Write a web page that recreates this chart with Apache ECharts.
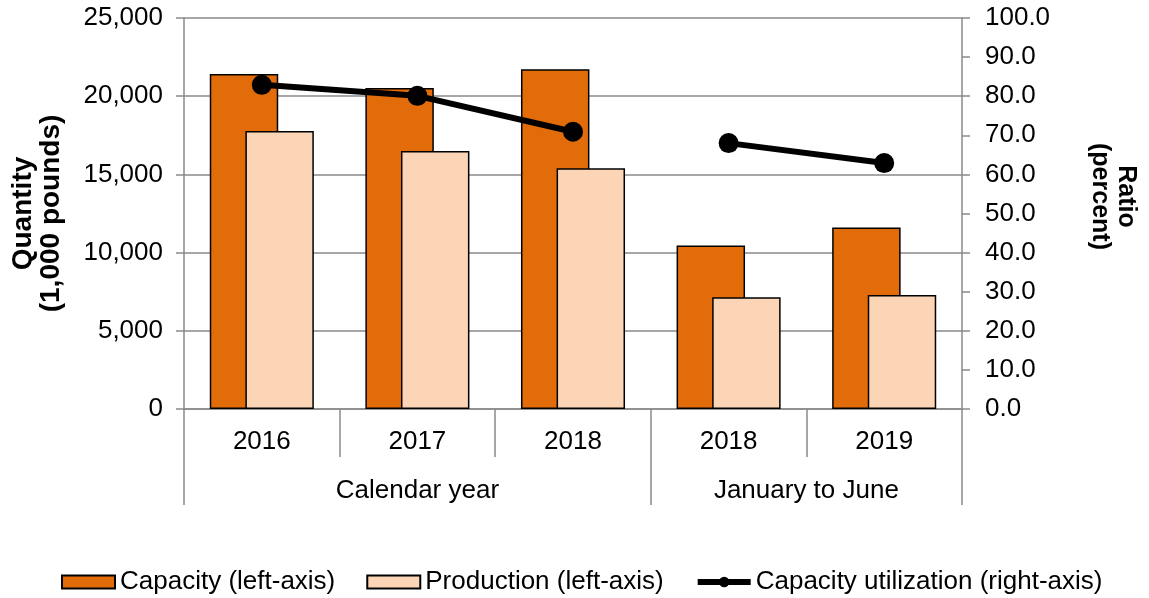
<!DOCTYPE html>
<html>
<head>
<meta charset="utf-8">
<script src="https://cdn.jsdelivr.net/npm/echarts@6/dist/echarts.min.js"></script>
<style>
html, body { margin: 0; padding: 0; background: #fff; }
#chart { width: 1149px; height: 598px; }
</style>
</head>
<body>
<div id="chart"></div>
<script>
// 分类与分组
const years = ['2016', '2017', '2018', '2018', '2019'];
const groups = ['Calendar year', 'January to June'];
const groupBreaks = [0, 3, 5];
const groupCenters = [1.5, 4];
// 数据 (1,000 pounds / percent)
const capacity = [21420, 20520, 21720, 10450, 11600];
const production = [17780, 16500, 15390, 7140, 7290];
const utilCalendar = [82.9, 80.1, 70.9, '-', '-'];
const utilInterim = ['-', '-', '-', 68.0, 62.9];

const font = 'Liberation Sans, Arial, sans-serif';
const gray = '#8a8a8a';

let myChart = echarts.init(document.getElementById('chart'));
myChart.setOption({
    animation: false,
    textStyle: { fontFamily: font },
    grid: { left: 184, right: 187, top: 18, bottom: 189, containLabel: false },
    legend: {
        top: 564,
        left: 56,
        itemWidth: 53,
        itemHeight: 13,
        itemGap: 31,
        textStyle: { fontSize: 26, color: '#000', fontFamily: font },
        data: [
            { name: 'Capacity (left-axis)', icon: 'rect' },
            { name: 'Production (left-axis)', icon: 'rect' },
            {
                name: 'Capacity utilization (right-axis)',
                lineStyle: { width: 6 }
            }
        ]
    },
    xAxis: [
        {
            type: 'category',
            data: years,
            axisLine: { lineStyle: { color: gray, width: 1.5 } },
            axisTick: { show: true, length: 48, lineStyle: { color: gray, width: 1.5 } },
            axisLabel: { color: '#000', fontSize: 26, margin: 20 },
            splitLine: { show: false }
        },
        {
            type: 'value',
            position: 'bottom',
            min: 0,
            max: 5,
            axisLine: { show: false },
            axisTick: {
                show: true, length: 96, customValues: groupBreaks,
                lineStyle: { color: gray, width: 1.5 }
            },
            axisLabel: {
                customValues: groupCenters,
                color: '#000', fontSize: 26, margin: 69,
                formatter: (v) => groups[groupCenters.indexOf(v)] || ''
            },
            splitLine: { show: false }
        }
    ],
    yAxis: [
        {
            type: 'value',
            min: 0, max: 25000, interval: 5000,
            name: 'Quantity\n(1,000 pounds)',
            nameLocation: 'middle',
            nameRotate: 90,
            nameGap: 119,
            nameTextStyle: { fontSize: 28, fontWeight: 'bold', color: '#000', lineHeight: 28 },
            axisLine: { show: true, lineStyle: { color: gray, width: 1.5 } },
            axisTick: { show: true, length: 8, lineStyle: { color: gray, width: 1.5 } },
            axisLabel: {
                color: '#000', fontSize: 26, margin: 21,
                formatter: (v) => v.toLocaleString('en-US')
            },
            splitLine: { show: true, lineStyle: { color: gray, width: 1.5 } }
        },
        {
            type: 'value',
            min: 0, max: 100, interval: 10,
            name: 'Ratio\n(percent)',
            nameLocation: 'middle',
            nameRotate: -90,
            nameGap: 125,
            nameTextStyle: {
                fontSize: 25, fontWeight: 'bold', color: '#000', lineHeight: 26,
                padding: [0, 34, 0, 0]
            },
            axisLine: { show: true, lineStyle: { color: gray, width: 1.5 } },
            axisTick: { show: true, length: 8, lineStyle: { color: gray, width: 1.5 } },
            axisLabel: {
                color: '#000', fontSize: 26, margin: 23,
                formatter: (v) => v.toFixed(1)
            },
            splitLine: { show: false }
        }
    ],
    series: [
        {
            name: 'Capacity (left-axis)',
            type: 'bar',
            data: capacity,
            barWidth: '44%',
            barGap: '-48%',
            itemStyle: { color: '#e36c0a', borderColor: '#000', borderWidth: 1.5 }
        },
        {
            name: 'Production (left-axis)',
            type: 'bar',
            data: production,
            barWidth: '44%',
            barGap: '-48%',
            itemStyle: { color: '#fbd5b5', borderColor: '#000', borderWidth: 1.5 }
        },
        {
            name: 'Capacity utilization (right-axis)',
            type: 'line',
            yAxisIndex: 1,
            data: utilCalendar,
            symbol: 'circle',
            symbolSize: 20,
            lineStyle: { color: '#000', width: 6 },
            itemStyle: { color: '#000' }
        },
        {
            name: 'Capacity utilization (right-axis)',
            type: 'line',
            yAxisIndex: 1,
            data: utilInterim,
            symbol: 'circle',
            symbolSize: 20,
            lineStyle: { color: '#000', width: 6 },
            itemStyle: { color: '#000' }
        }
    ]
});
</script>
</body>
</html>
